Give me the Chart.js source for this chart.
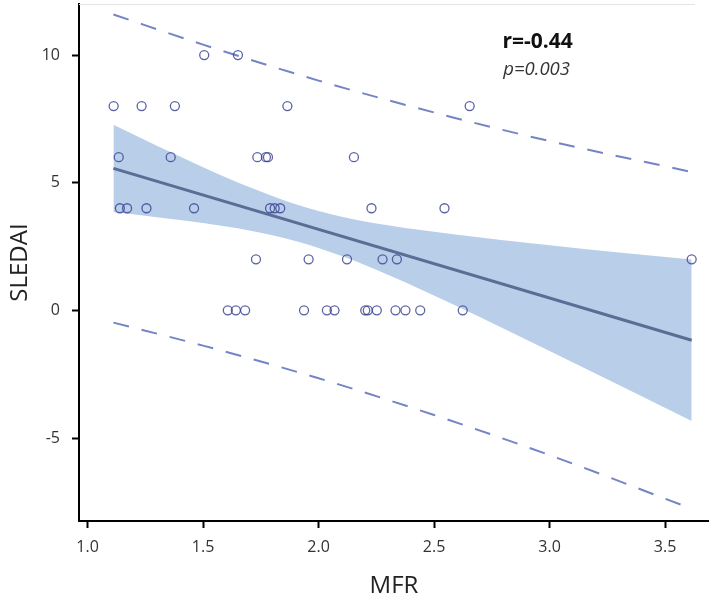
<!DOCTYPE html>
<html lang="en">
<head>
    <meta charset="UTF-8">
    <title>SLEDAI vs MFR</title>
    <style>
        html, body { margin: 0; padding: 0; background: #fff; }
        #wrap { width: 709px; height: 605px; }
    </style>
</head>
<body>
    <script src="https://cdn.jsdelivr.net/npm/chart.js@4.4.1/dist/chart.umd.min.js"></script>
    <div id="wrap"><canvas id="scatter"></canvas></div>
    <script>
        var mfr = [1.505, 1.651,
                   1.113, 1.234, 1.378, 1.865, 2.654,
                   1.135, 1.360, 1.735, 1.772, 1.781, 2.153,
                   1.140, 1.171, 1.255, 1.461, 1.790, 1.810, 1.834, 2.229, 2.545,
                   1.729, 1.957, 2.123, 2.277, 2.339, 3.615,
                   1.607, 1.642, 1.682, 1.937, 2.036, 2.069, 2.202, 2.213, 2.252, 2.333, 2.376, 2.440, 2.624];
        var sledai = [10, 10,
                      8, 8, 8, 8, 8,
                      6, 6, 6, 6, 6, 6,
                      4, 4, 4, 4, 4, 4, 4, 4, 4,
                      2, 2, 2, 2, 2, 2,
                      0, 0, 0, 0, 0, 0, 0, 0, 0, 0, 0, 0, 0];

        // fitted line end points
        var fitX = [1.112, 3.615];
        var fitY = [5.56, -1.17];

        // 95% confidence band
        var bandX = [1.112, 1.3, 1.5, 1.7, 1.9, 2.1, 2.3, 2.6, 3.0, 3.3, 3.615];
        var bandUpper = [7.27, 6.45, 5.61, 4.83, 4.16, 3.67, 3.33, 2.96, 2.55, 2.27, 1.99];
        var bandLower = [3.85, 3.65, 3.42, 3.13, 2.72, 2.13, 1.40, 0.16, -1.59, -2.92, -4.33];

        // prediction interval (dashed)
        var predX = [1.112, 1.5, 2.0, 2.5, 3.0, 3.615];
        var predUpper = [11.59, 10.41, 9.00, 7.75, 6.63, 5.42];
        var predLower = [-0.48, -1.38, -2.66, -4.10, -5.67, -7.77];

        var xTicks = [1.0, 1.5, 2.0, 2.5, 3.0, 3.5];
        var yTicks = [-5, 0, 5, 10];

        function pairs(xs, ys) {
            return xs.map(function (x, i) { return { x: x, y: ys[i] }; });
        }

        var fontName = "'Open Sans', 'Noto Sans', sans-serif";

        var statsText = {
            id: 'statsText',
            afterDatasetsDraw: function (chart) {
                var ctx = chart.ctx;
                var a = chart.chartArea;
                var sx = chart.scales.x, sy = chart.scales.y;
                ctx.save();
                // thin frame line at the top
                ctx.strokeStyle = '#e4e4e4';
                ctx.lineWidth = 1;
                ctx.beginPath();
                ctx.moveTo(a.left, a.top + 0.5);
                ctx.lineTo(a.right - 14, a.top + 0.5);
                ctx.stroke();

                ctx.fillStyle = '#111';
                ctx.textAlign = 'center';
                ctx.textBaseline = 'middle';
                ctx.font = "bold 21px " + fontName;
                ctx.fillText('r=-0.44', sx.getPixelForValue(2.948), sy.getPixelForValue(10.5));
                ctx.fillStyle = '#333';
                ctx.font = "italic 18.5px " + fontName;
                ctx.fillText('p=0.003', sx.getPixelForValue(2.944), sy.getPixelForValue(9.42));
                ctx.restore();
            }
        };

        var data = {
            datasets: [{
                type: 'scatter',
                label: 'SLEDAI',
                data: pairs(mfr, sledai),
                pointStyle: 'circle',
                pointRadius: 4.5,
                pointBorderWidth: 1.3,
                borderColor: 'rgba(62, 72, 150, 0.85)',
                backgroundColor: 'rgba(0,0,0,0)',
                order: 0
            }, {
                type: 'line',
                label: 'Fit',
                data: pairs(fitX, fitY),
                borderColor: '#5b6d95',
                borderWidth: 3,
                pointRadius: 0,
                fill: false,
                order: 1
            }, {
                type: 'line',
                label: 'Pred upper',
                data: pairs(predX, predUpper),
                borderColor: '#7584c4',
                borderWidth: 2,
                borderDash: [16, 13],
                pointRadius: 0,
                cubicInterpolationMode: 'monotone',
                fill: false,
                order: 2
            }, {
                type: 'line',
                label: 'Pred lower',
                data: pairs(predX, predLower),
                borderColor: '#7584c4',
                borderWidth: 2,
                borderDash: [16, 13],
                pointRadius: 0,
                cubicInterpolationMode: 'monotone',
                fill: false,
                order: 2
            }, {
                type: 'line',
                label: 'CI upper',
                data: pairs(bandX, bandUpper),
                borderColor: 'rgba(0,0,0,0)',
                borderWidth: 0,
                backgroundColor: '#b8cee9',
                pointRadius: 0,
                cubicInterpolationMode: 'monotone',
                fill: '+1',
                order: 3
            }, {
                type: 'line',
                label: 'CI lower',
                data: pairs(bandX, bandLower),
                borderColor: 'rgba(0,0,0,0)',
                borderWidth: 0,
                pointRadius: 0,
                cubicInterpolationMode: 'monotone',
                fill: false,
                order: 3
            }]
        };

        var options = {
            responsive: true,
            maintainAspectRatio: false,
            animation: false,
            layout: { autoPadding: false, padding: { top: 4, right: 0, left: 0, bottom: 0 } },
            scales: {
                x: {
                    type: 'linear',
                    min: 0.963,
                    max: 3.69,
                    afterBuildTicks: function (scale) {
                        scale.ticks = xTicks.map(function (v) { return { value: v }; });
                    },
                    afterFit: function (scale) {
                        scale.height = 84;
                        scale.paddingLeft = 0;
                        scale.paddingRight = 0;
                    },
                    ticks: {
                        callback: function (v) { return Number(v).toFixed(1); },
                        color: '#333',
                        font: { family: fontName, size: 16 },
                        padding: 10
                    },
                    grid: { drawOnChartArea: false, drawTicks: true, tickLength: 7, tickColor: '#000', tickWidth: 2 },
                    border: { color: '#000', width: 2 },
                    title: {
                        display: true,
                        text: 'MFR',
                        color: '#222',
                        font: { family: fontName, size: 24 },
                        padding: { top: 16 }
                    }
                },
                y: {
                    type: 'linear',
                    min: -8.25,
                    max: 12,
                    afterBuildTicks: function (scale) {
                        scale.ticks = yTicks.map(function (v) { return { value: v }; });
                    },
                    afterFit: function (scale) {
                        scale.width = 79;
                        scale.paddingTop = 0;
                        scale.paddingBottom = 0;
                    },
                    ticks: {
                        color: '#333',
                        font: { family: fontName, size: 16 },
                        padding: 12
                    },
                    grid: { drawOnChartArea: false, drawTicks: true, tickLength: 7, tickColor: '#000', tickWidth: 2 },
                    border: { color: '#000', width: 2 },
                    title: {
                        display: true,
                        text: 'SLEDAI',
                        color: '#222',
                        font: { family: fontName, size: 24 },
                        padding: { top: 6, bottom: 0 }
                    }
                }
            },
            plugins: {
                legend: { display: false },
                tooltip: { enabled: false }
            }
        };

        new Chart(document.getElementById('scatter').getContext('2d'), {
            type: 'scatter',
            data: data,
            options: options,
            plugins: [statsText]
        });
    </script>
</body>
</html>
